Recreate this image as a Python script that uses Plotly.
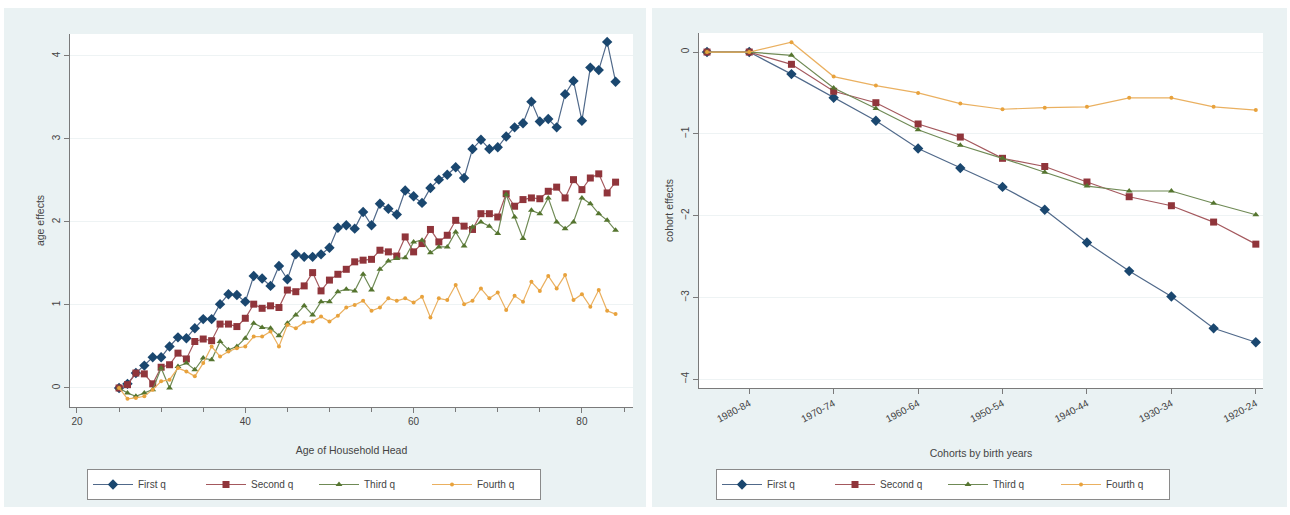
import plotly.graph_objects as go

# ---------------- data ----------------
ages = list(range(25, 85))

age_first = [0.00, 0.05, 0.18, 0.27, 0.37, 0.37, 0.50, 0.61, 0.60, 0.72,
             0.83, 0.83, 1.01, 1.13, 1.12, 1.04, 1.35, 1.32, 1.23, 1.47,
             1.31, 1.61, 1.58, 1.58, 1.61, 1.69, 1.93, 1.96, 1.92, 2.12,
             1.96, 2.22, 2.16, 2.09, 2.38, 2.31, 2.23, 2.41, 2.51, 2.57,
             2.66, 2.53, 2.88, 2.99, 2.88, 2.90, 3.03, 3.14, 3.19, 3.45,
             3.21, 3.24, 3.14, 3.54, 3.70, 3.22, 3.86, 3.83, 4.17, 3.69]
age_second = [0.00, 0.04, 0.18, 0.17, 0.05, 0.25, 0.28, 0.42, 0.35, 0.56,
              0.59, 0.57, 0.77, 0.77, 0.74, 0.84, 1.01, 0.96, 0.99, 0.97,
              1.18, 1.16, 1.23, 1.39, 1.17, 1.30, 1.37, 1.43, 1.52, 1.54,
              1.55, 1.66, 1.64, 1.59, 1.82, 1.64, 1.74, 1.91, 1.76, 1.84,
              2.02, 1.95, 1.91, 2.10, 2.10, 2.06, 2.34, 2.19, 2.27, 2.29,
              2.28, 2.37, 2.42, 2.29, 2.51, 2.39, 2.53, 2.58, 2.35, 2.48]
age_third = [0.00, -0.06, -0.10, -0.06, -0.02, 0.24, 0.00, 0.26, 0.30, 0.22,
             0.36, 0.34, 0.56, 0.46, 0.50, 0.60, 0.78, 0.73, 0.72, 0.63,
             0.78, 0.88, 0.99, 0.88, 1.04, 1.04, 1.16, 1.19, 1.17, 1.37,
             1.18, 1.43, 1.53, 1.56, 1.57, 1.76, 1.78, 1.63, 1.70, 1.70,
             1.88, 1.71, 1.94, 2.00, 1.95, 1.86, 2.33, 2.06, 1.80, 2.14,
             2.10, 2.29, 2.00, 1.92, 2.00, 2.29, 2.22, 2.10, 2.02, 1.90]
age_fourth = [0.00, -0.13, -0.12, -0.10, -0.02, 0.08, 0.10, 0.24, 0.20, 0.14,
              0.30, 0.50, 0.38, 0.44, 0.48, 0.50, 0.62, 0.62, 0.68, 0.50,
              0.76, 0.72, 0.79, 0.80, 0.86, 0.80, 0.87, 0.97, 1.00, 1.05,
              0.93, 0.97, 1.08, 1.05, 1.08, 1.03, 1.10, 0.85, 1.08, 1.06,
              1.24, 1.01, 1.05, 1.20, 1.08, 1.15, 0.94, 1.11, 1.04, 1.28,
              1.17, 1.35, 1.20, 1.36, 1.06, 1.13, 0.98, 1.18, 0.93, 0.89]

cohorts = ["1985-89", "1980-84", "1975-79", "1970-74", "1965-69", "1960-64",
           "1955-59", "1950-54", "1945-49", "1940-44", "1935-39", "1930-34",
           "1925-29", "1920-24"]
coh_first = [0.00, 0.00, -0.27, -0.56, -0.84, -1.18, -1.42, -1.65, -1.93,
             -2.33, -2.68, -2.99, -3.38, -3.55]
coh_second = [0.00, 0.00, -0.15, -0.48, -0.62, -0.88, -1.04, -1.30, -1.40,
              -1.59, -1.77, -1.88, -2.08, -2.35]
coh_third = [0.00, 0.00, -0.04, -0.44, -0.69, -0.95, -1.14, -1.30, -1.47,
             -1.64, -1.70, -1.70, -1.85, -1.99]
coh_fourth = [0.00, 0.00, 0.12, -0.30, -0.41, -0.50, -0.63, -0.70, -0.68,
              -0.67, -0.56, -0.56, -0.67, -0.71]

series_names = ["First q", "Second q", "Third q", "Fourth q"]
age_tick_vals = [20, 40, 60, 80]
coh_tick_labels = cohorts[1::2]

# ---------------- styling ----------------
W, H = 1290, 515
colors = ["#1a476f", "#90353b", "#55752f", "#e8a23c"]
line_colors = ["#50698a", "#a4585d", "#6f8a55", "#eab060"]
symbols = ["diamond", "square", "triangle-up", "circle"]
sizes = [8, 7, 6, 4]
FONT = "Liberation Sans, Arial, sans-serif"
panel_bg = "#eaf2f3"
axis_col = "#7a7a7a"
grid_col = "#eef3f4"


def px(x):
    return x / W


def py(y):
    return 1 - y / H


fig = go.Figure()

age_series = [age_first, age_second, age_third, age_fourth]
coh_series = [coh_first, coh_second, coh_third, coh_fourth]
coh_x = list(range(len(cohorts)))

for i, name in enumerate(series_names):
    fig.add_trace(go.Scatter(
        x=ages, y=age_series[i], mode="lines+markers", name=name,
        line=dict(color=line_colors[i], width=1.2),
        marker=dict(color=colors[i], symbol=symbols[i], size=sizes[i],
                    line=dict(width=0)),
        xaxis="x", yaxis="y", legend="legend"))

for i, name in enumerate(series_names):
    fig.add_trace(go.Scatter(
        x=coh_x, y=coh_series[i], mode="lines+markers", name=name,
        line=dict(color=line_colors[i], width=1.2),
        marker=dict(color=colors[i], symbol=symbols[i], size=sizes[i],
                    line=dict(width=0)),
        xaxis="x2", yaxis="y2", legend="legend2"))

# panel backgrounds
fig.add_shape(type="rect", xref="paper", yref="paper", layer="below",
              x0=px(4), x1=px(646), y0=py(507), y1=py(8),
              fillcolor=panel_bg, line=dict(width=0))
fig.add_shape(type="rect", xref="paper", yref="paper", layer="below",
              x0=px(652), x1=px(1287), y0=py(507), y1=py(8),
              fillcolor=panel_bg, line=dict(width=0))
# plot areas (white)
fig.add_shape(type="rect", xref="paper", yref="paper", layer="below",
              x0=px(70), x1=px(633), y0=py(407), y1=py(34),
              fillcolor="white", line=dict(width=0))
fig.add_shape(type="rect", xref="paper", yref="paper", layer="below",
              x0=px(699), x1=px(1263), y0=py(388), y1=py(33),
              fillcolor="white", line=dict(width=0))

tickfont = dict(family=FONT, size=10, color="#444")
titlefont = dict(family=FONT, size=10.5, color="#444")

fig.update_layout(
    width=W, height=H,
    margin=dict(l=0, r=0, t=0, b=0),
    paper_bgcolor="white",
    plot_bgcolor="rgba(0,0,0,0)",
    font=dict(family=FONT, size=10, color="#444"),
    xaxis=dict(domain=[px(70), px(633)], range=[19.17, 86.07],
               tickmode="array", tickvals=age_tick_vals,
               ticks="outside", ticklen=5, tickcolor=axis_col,
               minor=dict(dtick=5, tick0=0, ticks="outside", ticklen=4,
                          tickcolor=axis_col, showgrid=False),
               showline=True, linecolor=axis_col, linewidth=1.2,
               showgrid=False, zeroline=False, tickfont=tickfont,
               title=dict(text="Age of Household Head", font=titlefont,
                          standoff=20),
               anchor="y"),
    yaxis=dict(domain=[py(407), py(34)], range=[-0.229, 4.265],
               tickmode="array", tickvals=[0, 1, 2, 3, 4], tickangle=-90,
               ticks="outside", ticklen=5, tickcolor=axis_col,
               showline=True, linecolor=axis_col, linewidth=1.2,
               showgrid=True, gridcolor=grid_col, gridwidth=1,
               zeroline=False, tickfont=tickfont,
               title=dict(text="age effects", font=titlefont, standoff=4),
               anchor="x"),
    xaxis2=dict(domain=[px(699), px(1263)], range=[-0.19, 13.17],
                tickmode="array", tickvals=coh_x[1::2],
                ticktext=coh_tick_labels, tickangle=-28,
                ticks="outside", ticklen=5, tickcolor=axis_col,
                showline=True, linecolor=axis_col, linewidth=1.2,
                showgrid=False, zeroline=False, tickfont=tickfont,
                title=dict(text="Cohorts by birth years", font=titlefont,
                           standoff=26),
                anchor="y2"),
    yaxis2=dict(domain=[py(388), py(33)], range=[-4.11, 0.233],
                tickmode="array", tickvals=[0, -1, -2, -3, -4], tickangle=-90,
                ticks="outside", ticklen=5, tickcolor=axis_col,
                showline=True, linecolor=axis_col, linewidth=1.2,
                showgrid=True, gridcolor=grid_col, gridwidth=1,
                zeroline=False, tickfont=tickfont,
                title=dict(text="cohort effects", font=titlefont, standoff=4),
                anchor="x2"),
    legend=dict(orientation="h", x=px(87), y=py(469), xanchor="left",
                yanchor="top", bgcolor="white", bordercolor="#8a8a8a",
                borderwidth=1, font=dict(family=FONT, size=10, color="#444"),
                entrywidth=58, entrywidthmode="pixels", itemwidth=40),
    legend2=dict(orientation="h", x=px(716), y=py(469), xanchor="left",
                 yanchor="top", bgcolor="white", bordercolor="#8a8a8a",
                 borderwidth=1, font=dict(family=FONT, size=10, color="#444"),
                 entrywidth=58, entrywidthmode="pixels", itemwidth=40),
)

fig.write_html("out.html", config={"displayModeBar": False},
               post_script="document.body.style.margin='0px';")
